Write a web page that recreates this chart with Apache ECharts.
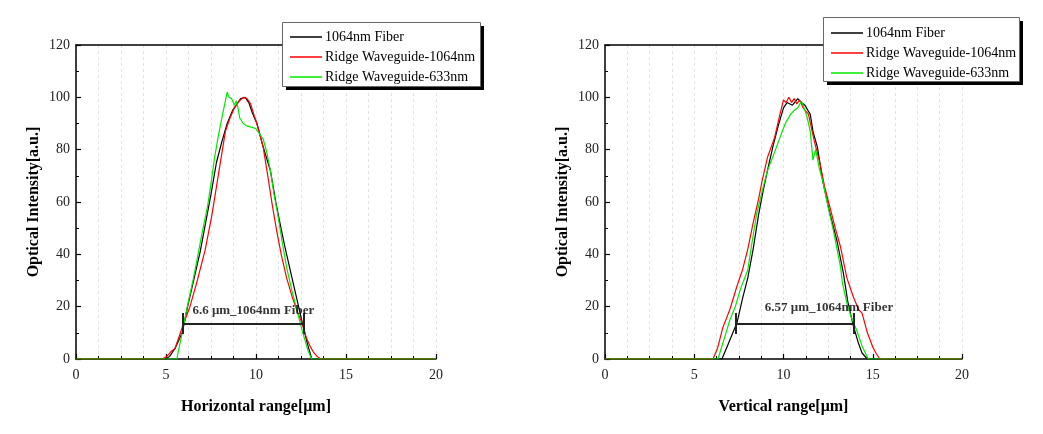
<!DOCTYPE html>
<html>
<head>
<meta charset="utf-8">
<script src="https://cdn.jsdelivr.net/npm/echarts@6/dist/echarts.min.js"></script>
<style>html,body{margin:0;padding:0;background:#fff}#c{width:1043px;height:434px}</style>
</head>
<body>
<div id="c"></div>
<script>
// ---- data ----
const seriesNames = ['1064nm Fiber', 'Ridge Waveguide-1064nm', 'Ridge Waveguide-633nm'];
const xTickLabels = ['0', '5', '10', '15', '20'];
const yTickLabels = ['0', '20', '40', '60', '80', '100', '120'];

// Horizontal profile
const hFiber = [[0,0],[5.0,0],[5.2,1],[5.5,4],[5.9,10],[6.2,20],[6.5,29],[6.9,41],[7.2,52],[7.5,63],[7.8,75],[8.1,83],[8.4,90],[8.7,95],[9.0,98],[9.15,99.5],[9.4,100],[9.6,98],[9.8,94],[10.05,90],[10.4,81],[10.8,72],[11.1,60],[11.3,53],[11.6,43],[12.0,31],[12.3,22],[12.6,13],[12.85,6],[13.1,0],[20,0]];
const hRidge1064 = [[0,0],[4.8,0],[5.05,1],[5.3,3],[5.5,4],[5.75,9],[5.95,13],[6.33,20],[6.7,29],[7.17,41.5],[7.55,55],[7.9,70],[8.3,87],[8.55,92],[8.8,96],[9.05,98.5],[9.3,100],[9.5,99.5],[9.7,97.5],[9.9,93],[10.05,90],[10.4,81],[10.7,68],[10.9,59],[11.15,49],[11.4,40],[11.7,31],[12.0,24],[12.3,18],[12.6,13],[12.8,8],[13.0,5],[13.2,2.5],[13.4,1],[13.6,0],[20,0]];
const hRidge633 = [[0,0],[5.6,0],[5.9,10],[6.15,19],[6.5,30],[6.7,37],[7.0,48],[7.3,58],[7.5,67],[7.7,77],[7.9,85],[8.1,92],[8.25,97],[8.4,102],[8.5,100],[8.65,99.5],[8.8,97],[8.9,98.7],[9.0,96],[9.1,92],[9.3,90],[9.5,89],[9.8,88.5],[10.0,88],[10.2,86],[10.4,84],[10.6,79],[10.8,72],[11.0,63],[11.2,55.6],[11.45,45],[11.7,35],[12.0,26],[12.3,18],[12.6,10],[12.9,3],[13.1,0],[20,0]];

// Vertical profile
const vFiber = [[0,0],[6.55,0],[6.8,4],[7.1,9],[7.4,14],[7.7,23],[8.0,31],[8.3,42],[8.6,55],[8.85,64],[9.1,72],[9.4,81],[9.7,89],[10.0,96],[10.2,98],[10.5,97],[10.8,99.5],[11.0,98],[11.2,97],[11.5,93.5],[11.65,87],[11.9,81],[12.2,68],[12.6,55.6],[13.0,45],[13.35,33],[13.6,22],[13.9,13],[14.2,6],[14.4,2.3],[14.7,0],[20,0]];
const vRidge1064 = [[0,0],[6.05,0],[6.3,4],[6.6,12],[7.0,19],[7.4,28],[7.7,34],[8.0,42],[8.3,52],[8.6,61],[8.8,68],[9.1,77],[9.5,84.6],[9.8,93.5],[10.0,99],[10.15,98],[10.3,100],[10.45,98],[10.6,99.5],[10.75,97.5],[10.9,99],[11.1,96],[11.4,93.5],[11.7,84],[12.05,74.6],[12.3,66],[12.6,58],[12.9,50],[13.2,42.7],[13.55,31],[13.9,24],[14.2,19],[14.4,17.5],[14.7,10],[15.0,4.6],[15.2,2],[15.4,0],[20,0]];
const vRidge633 = [[0,0],[6.33,0],[6.6,6],[7.0,15],[7.3,20],[7.6,27],[8.0,34],[8.2,43],[8.5,55.6],[8.8,64],[9.1,72],[9.5,79],[9.8,84.6],[10.1,90],[10.4,93.5],[10.6,95],[10.8,96],[11.0,98.5],[11.1,97],[11.3,93],[11.5,87],[11.65,76],[11.8,80],[12.0,73],[12.2,68],[12.5,58],[12.8,49],[13.0,42],[13.2,35],[13.3,29],[13.6,20],[13.85,15],[14.1,11],[14.4,5],[14.75,0],[20,0]];

// span annotations: [x start, x end], level, label text, label anchor [x, y]
const hSpan = [5.94, 12.67];
const hLevel = 13.6;
const hText = '6.6 \u03bcm_1064nm Fiber';
const hTextAt = [9.85, 18.5];
const vSpan = [7.34, 13.95];
const vLevel = 13.6;
const vText = '6.57 \u03bcm_1064nm Fiber';
const vTextAt = [12.55, 19.8];

// ---- chart ----
const FONT = '"Liberation Serif", "Times New Roman", serif';
const colors = ['#000000', '#ff0000', '#00e800'];

function xAxisMain(gi, name) {
  return {
    type: 'value', gridIndex: gi, min: 0, max: 20, interval: 5,
    name: name, nameLocation: 'middle', nameGap: 40,
    nameTextStyle: { fontFamily: FONT, fontWeight: 'bold', fontSize: 16, color: '#000' },
    axisLine: { show: true, onZero: false, lineStyle: { color: '#000', width: 1.5 } },
    axisTick: { show: true, inside: true, length: 5, lineStyle: { color: '#000', width: 1.2 } },
    minorTick: { show: true, splitNumber: 4, length: 3, lineStyle: { color: '#000', width: 1 } },
    axisLabel: { fontFamily: FONT, fontSize: 14, color: '#222', margin: 9,
      formatter: v => xTickLabels[Math.round(v / 5)] },
    splitLine: { show: true, lineStyle: { color: '#dcdcdc', type: [3, 3], width: 0.8 } },
    minorSplitLine: { show: true, lineStyle: { color: '#dcdcdc', type: [3, 3], width: 0.8 } }
  };
}
function xAxisTop(gi) {
  return {
    type: 'value', gridIndex: gi, min: 0, max: 20, position: 'top',
    axisLine: { show: true, onZero: false, lineStyle: { color: '#000', width: 1.5 } },
    axisTick: { show: false }, axisLabel: { show: false }, splitLine: { show: false }
  };
}
function yAxisMain(gi) {
  return {
    type: 'value', gridIndex: gi, min: 0, max: 120, interval: 20,
    name: 'Optical Intensity[a.u.]', nameLocation: 'middle', nameGap: 34,
    nameTextStyle: { fontFamily: FONT, fontWeight: 'bold', fontSize: 16, color: '#000' },
    axisLine: { show: true, onZero: false, lineStyle: { color: '#000', width: 1.5 } },
    axisTick: { show: true, inside: true, length: 5, lineStyle: { color: '#000', width: 1.2 } },
    minorTick: { show: true, splitNumber: 2, length: 3, lineStyle: { color: '#000', width: 1 } },
    axisLabel: { fontFamily: FONT, fontSize: 14, color: '#222', margin: 6,
      formatter: v => yTickLabels[Math.round(v / 20)] },
    splitLine: { show: false }
  };
}
function curve(name, data, gi, ci) {
  return {
    type: 'line', name: name, data: data, xAxisIndex: gi * 2, yAxisIndex: gi,
    symbol: 'none', lineStyle: { color: colors[ci], width: 1.2 }, itemStyle: { color: colors[ci] },
    animation: false, z: 3 + ci
  };
}
function spanLines(span, level, gi) {
  return {
    type: 'lines', coordinateSystem: 'cartesian2d', xAxisIndex: gi * 2, yAxisIndex: gi,
    lineStyle: { color: '#222', width: 2, opacity: 1 }, z: 8, animation: false, silent: true,
    data: [
      { coords: [[span[0], level], [span[1], level]] },
      { coords: [[span[0], level - 4], [span[0], level + 4]] },
      { coords: [[span[1], level - 4], [span[1], level + 4]] }
    ]
  };
}
function spanText(text, at, gi) {
  return {
    type: 'scatter', xAxisIndex: gi * 2, yAxisIndex: gi, data: [at], symbolSize: 1,
    itemStyle: { color: 'rgba(0,0,0,0)' }, z: 9, animation: false, silent: true,
    label: { show: true, position: 'inside', formatter: text,
      fontFamily: FONT, fontWeight: 'bold', fontSize: 13, color: '#000' }
  };
}
function legend(left, top) {
  return {
    left: left, top: top, orient: 'vertical', data: seriesNames,
    icon: 'rect', itemWidth: 32, itemHeight: 1.5, itemGap: 4, padding: [6, 8, 5, 8],
    textStyle: { fontFamily: FONT, fontSize: 14, color: '#000', lineHeight: 16, padding: [0, 0, 0, -2] },
    selectedMode: false, z: 20
  };
}
function legendBox(x, y, w, h) {
  return [
    { type: 'rect', left: x + 4, top: y + 4, shape: { width: w, height: h }, style: { fill: '#000' }, z: 15 },
    { type: 'rect', left: x, top: y, shape: { width: w, height: h }, style: { fill: '#fff', stroke: '#666', lineWidth: 1 }, z: 16 }
  ];
}

const chart = echarts.init(document.getElementById('c'), null, { renderer: 'canvas' });
chart.setOption({
  backgroundColor: '#fff',
  animation: false,
  grid: [
    { left: 76, top: 45, width: 360, height: 314 },
    { left: 605, top: 45, width: 357, height: 314 }
  ],
  legend: [legend(282, 23), legend(823, 19)],
  graphic: [].concat(legendBox(282, 22, 198, 64), legendBox(823, 17, 196, 64)),
  xAxis: [xAxisMain(0, 'Horizontal range[\u03bcm]'), xAxisTop(0), xAxisMain(1, 'Vertical range[\u03bcm]'), xAxisTop(1)],
  yAxis: [yAxisMain(0), yAxisMain(1)],
  series: [
    curve(seriesNames[0], hFiber, 0, 0),
    curve(seriesNames[1], hRidge1064, 0, 1),
    curve(seriesNames[2], hRidge633, 0, 2),
    curve(seriesNames[0], vFiber, 1, 0),
    curve(seriesNames[1], vRidge1064, 1, 1),
    curve(seriesNames[2], vRidge633, 1, 2),
    spanLines(hSpan, hLevel, 0),
    spanLines(vSpan, vLevel, 1),
    spanText(hText, hTextAt, 0),
    spanText(vText, vTextAt, 1)
  ]
});
</script>
</body>
</html>
